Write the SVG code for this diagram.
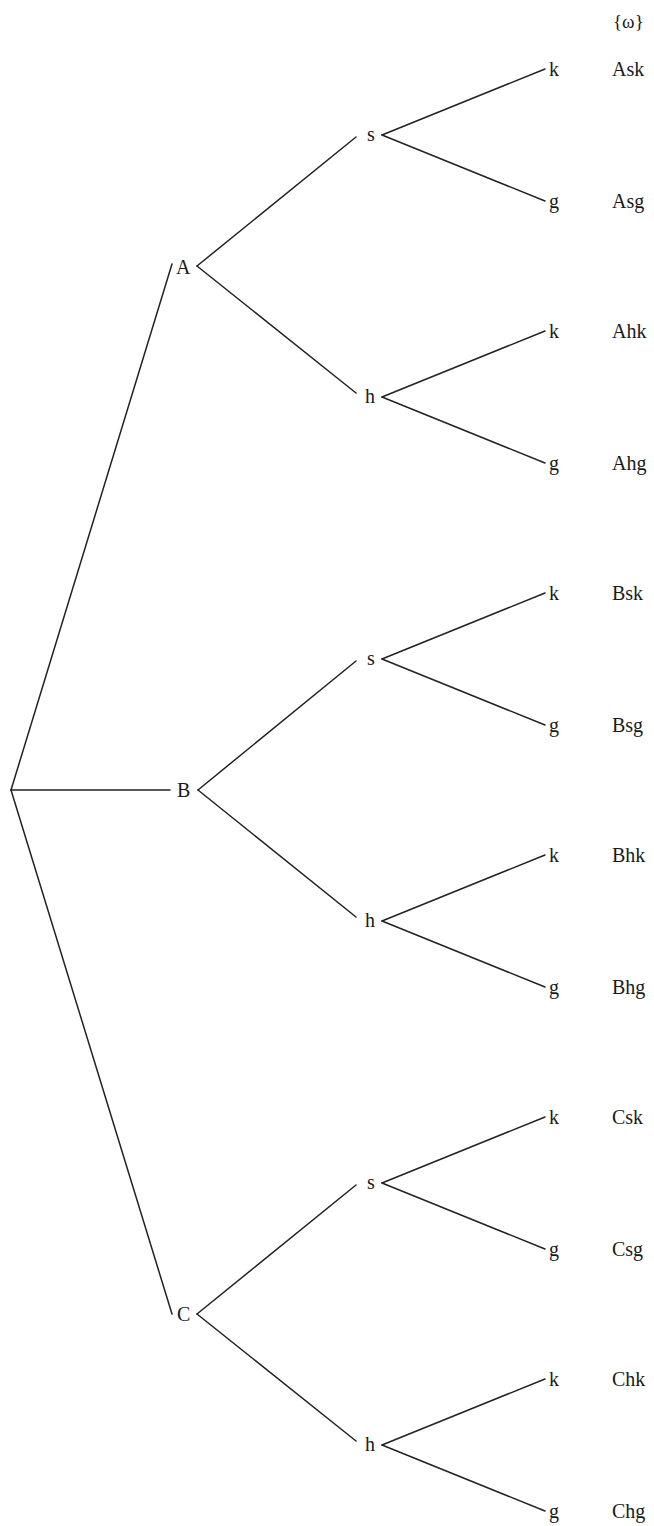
<svg xmlns="http://www.w3.org/2000/svg" width="654" height="1526" viewBox="0 0 654 1526">
  <style>
    .edge { stroke: #222; stroke-width: 1.5; fill: none; stroke-linecap: round; }
    .lbl { font-family: "Liberation Serif", "Times New Roman", serif; font-size: 20px; fill: #1a1a1a; }
    .hdr { font-family: "Liberation Serif", "Times New Roman", serif; font-size: 19px; fill: #1a1a1a; }
  </style>
  <rect width="654" height="1526" fill="#ffffff"/>

  <!-- connectors of the probability tree -->
  <g id="connectors">
    <!-- root to first level -->
    <line class="edge" x1="11" y1="790" x2="172" y2="264"/>
    <line class="edge" x1="11" y1="790" x2="170" y2="790"/>
    <line class="edge" x1="11" y1="790" x2="172" y2="1314"/>
    <!-- A branch -->
    <line class="edge" x1="197" y1="266" x2="356" y2="137"/>
    <line class="edge" x1="197" y1="266" x2="356" y2="393"/>
    <line class="edge" x1="382" y1="135" x2="545" y2="69"/>
    <line class="edge" x1="382" y1="135" x2="545" y2="201"/>
    <line class="edge" x1="382" y1="397" x2="545" y2="331"/>
    <line class="edge" x1="382" y1="397" x2="545" y2="463"/>
    <!-- B branch -->
    <line class="edge" x1="198" y1="790" x2="356" y2="661"/>
    <line class="edge" x1="198" y1="790" x2="356" y2="917"/>
    <line class="edge" x1="382" y1="659" x2="545" y2="593"/>
    <line class="edge" x1="382" y1="659" x2="545" y2="725"/>
    <line class="edge" x1="382" y1="921" x2="545" y2="855"/>
    <line class="edge" x1="382" y1="921" x2="545" y2="987"/>
    <!-- C branch -->
    <line class="edge" x1="197" y1="1314" x2="356" y2="1185"/>
    <line class="edge" x1="197" y1="1314" x2="356" y2="1441"/>
    <line class="edge" x1="382" y1="1183" x2="545" y2="1117"/>
    <line class="edge" x1="382" y1="1183" x2="545" y2="1249"/>
    <line class="edge" x1="382" y1="1445" x2="545" y2="1379"/>
    <line class="edge" x1="382" y1="1445" x2="545" y2="1511"/>
  </g>

  <!-- outcome column header -->
  <g id="header"><text class="hdr" x="613" y="28">{ω}</text></g>

  <!-- first level -->
  <g id="node-A"><text class="lbl" x="176" y="274">A</text></g>
  <g id="node-B"><text class="lbl" x="177" y="797">B</text></g>
  <g id="node-C"><text class="lbl" x="177" y="1321">C</text></g>

  <!-- second level -->
  <g id="node-As"><text class="lbl" x="367" y="141">s</text></g>
  <g id="node-Ah"><text class="lbl" x="365" y="403">h</text></g>
  <g id="node-Bs"><text class="lbl" x="367" y="665">s</text></g>
  <g id="node-Bh"><text class="lbl" x="365" y="927">h</text></g>
  <g id="node-Cs"><text class="lbl" x="367" y="1189">s</text></g>
  <g id="node-Ch"><text class="lbl" x="365" y="1451">h</text></g>

  <!-- leaves with outcomes -->
  <g id="leaf-Ask"><text class="lbl" x="549" y="76">k</text><text class="lbl" x="612" y="76">Ask</text></g>
  <g id="leaf-Asg"><text class="lbl" x="549" y="208">g</text><text class="lbl" x="612" y="208">Asg</text></g>
  <g id="leaf-Ahk"><text class="lbl" x="549" y="338">k</text><text class="lbl" x="612" y="338">Ahk</text></g>
  <g id="leaf-Ahg"><text class="lbl" x="549" y="470">g</text><text class="lbl" x="612" y="470">Ahg</text></g>
  <g id="leaf-Bsk"><text class="lbl" x="549" y="600">k</text><text class="lbl" x="612" y="600">Bsk</text></g>
  <g id="leaf-Bsg"><text class="lbl" x="549" y="732">g</text><text class="lbl" x="612" y="732">Bsg</text></g>
  <g id="leaf-Bhk"><text class="lbl" x="549" y="862">k</text><text class="lbl" x="612" y="862">Bhk</text></g>
  <g id="leaf-Bhg"><text class="lbl" x="549" y="994">g</text><text class="lbl" x="612" y="994">Bhg</text></g>
  <g id="leaf-Csk"><text class="lbl" x="549" y="1124">k</text><text class="lbl" x="612" y="1124">Csk</text></g>
  <g id="leaf-Csg"><text class="lbl" x="549" y="1256">g</text><text class="lbl" x="612" y="1256">Csg</text></g>
  <g id="leaf-Chk"><text class="lbl" x="549" y="1386">k</text><text class="lbl" x="612" y="1386">Chk</text></g>
  <g id="leaf-Chg"><text class="lbl" x="549" y="1518">g</text><text class="lbl" x="612" y="1518">Chg</text></g>
</svg>
